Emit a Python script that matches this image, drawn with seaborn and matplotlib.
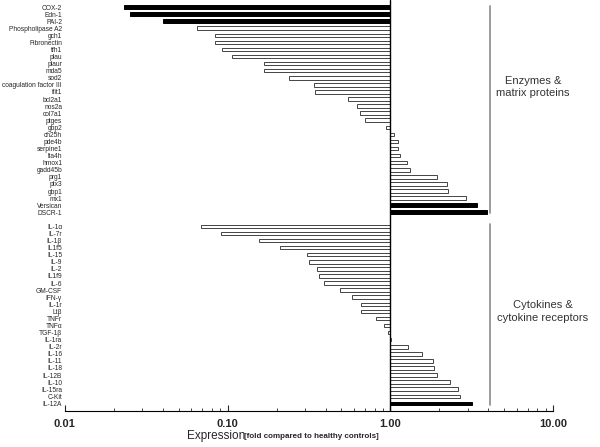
import matplotlib

matplotlib.use("Agg")

import matplotlib.pyplot as plt
import matplotlib.ticker as mticker
import numpy as np
import pandas as pd
import seaborn as sns

sns.set_theme(style="white")
plt.rcParams["font.family"] = ["Liberation Sans", "DejaVu Sans"]

# fold change vs healthy controls
enzyme_genes = [
    "COX-2", "Edn-1", "PAI-2", "Phospholipase A2", "gch1", "Fibronectin", "tfh1",
    "plau", "plaur", "mda5", "sod2", "coagulation factor III", "ifit1", "bcl2a1",
    "nos2a", "col7a1", "ptges", "gbp2", "ch25h", "pde4b", "serpine1", "lta4h",
    "hmox1", "gadd45b", "prg1", "ptx3", "gbp1", "mx1", "Versican", "DSCR-1",
]
enzyme_fold = [
    0.023, 0.025, 0.040, 0.065, 0.084, 0.084, 0.093,
    0.106, 0.167, 0.167, 0.239, 0.341, 0.344, 0.55,
    0.62, 0.647, 0.698, 0.945, 1.05, 1.11, 1.12, 1.14,
    1.27, 1.32, 1.92, 2.23, 2.26, 2.90, 3.41, 3.90,
]
cytokine_genes = [
    "IL-1α", "IL-7r", "IL-1β", "IL1f5", "IL-15", "IL-9", "IL-2", "IL1f9", "IL-6",
    "GM-CSF", "IFN-γ", "IL-1r", "Ltβ", "TNFr", "TNFα", "TGF-1β", "IL-1ra", "IL-2r",
    "IL-16", "IL-11", "IL-18", "IL-12B", "IL-10", "IL-15ra", "C-Kit", "IL-12A",
]
cytokine_fold = [
    0.069, 0.091, 0.156, 0.209, 0.309, 0.318, 0.353, 0.365, 0.392,
    0.491, 0.582, 0.656, 0.662, 0.82, 0.918, 0.963, 1.01, 1.28,
    1.56, 1.83, 1.85, 1.93, 2.33, 2.60, 2.69, 3.15,
]
highlighted = ["COX-2", "Edn-1", "PAI-2", "Versican", "DSCR-1", "IL-12A"]

df = pd.concat([
    pd.DataFrame({"gene": enzyme_genes, "fold": enzyme_fold, "group": "enzymes"}),
    pd.DataFrame({"gene": cytokine_genes, "fold": cytokine_fold, "group": "cytokines"}),
], ignore_index=True)
# one blank row between the two groups
df["row"] = np.arange(len(df)) + (df["group"] == "cytokines").astype(int)
df["solid"] = df["gene"].isin(highlighted)

fig = plt.figure(figsize=(6, 4.47), dpi=100)
ax = fig.add_axes([0.108, 0.081, 0.814, 0.919])
ax.set_xscale("log")

ax.barh(df["row"], df["fold"] - 1, left=1, height=0.5,
        color=np.where(df["solid"], "black", "white"),
        edgecolor=np.where(df["solid"], "black", "#444444"), linewidth=0.7)

ax.axvline(1, color="black", linewidth=1)

# group brackets
ax.plot([4.08, 4.08], [-0.14, 29.1], color="#8a8a8a", linewidth=1.2)
ax.plot([4.08, 4.08], [30.7, 56.3], color="#8a8a8a", linewidth=1.2)
ax.text(7.5, 11.3, "Enzymes &\nmatrix proteins", ha="center", va="center",
        fontsize=8, color="#333333", linespacing=1.3)
ax.text(8.6, 43.0, "Cytokines &\ncytokine receptors", ha="center", va="center",
        fontsize=8, color="#333333", linespacing=1.3)

ax.set_xlim(0.01, 10)
ax.set_ylim(57.05, -0.99)

ax.set_yticks(df["row"])
ax.set_yticklabels(df["gene"], fontsize=4.8)
ax.tick_params(axis="y", length=0, pad=2)

ax.xaxis.set_major_locator(mticker.FixedLocator([0.01, 0.1, 1, 10]))
ax.xaxis.set_major_formatter(mticker.FixedFormatter(["0.01", "0.10", "1.00", "10.00"]))
ax.xaxis.set_minor_locator(mticker.LogLocator(base=10, subs=np.arange(2, 10)))
ax.xaxis.set_minor_formatter(mticker.NullFormatter())
ax.tick_params(axis="x", which="major", direction="in", length=4, width=0.8,
               labelsize=8, pad=6, bottom=True)
ax.tick_params(axis="x", which="minor", direction="in", length=2.5, width=0.6, bottom=True)
for lab in ax.get_xticklabels():
    lab.set_fontweight("bold")

sns.despine(ax=ax, left=True)
ax.spines["bottom"].set_color("black")
ax.spines["bottom"].set_linewidth(0.8)
ax.grid(False)

fig.text(187 / 600, 1 - 436 / 447, "Expression", ha="left", va="center", fontsize=8.5)
fig.text(244 / 600, 1 - 437 / 447, "[fold compared to healthy controls]",
         ha="left", va="center", fontsize=5.8, fontweight="bold")

fig.savefig("out.png", dpi=100)
